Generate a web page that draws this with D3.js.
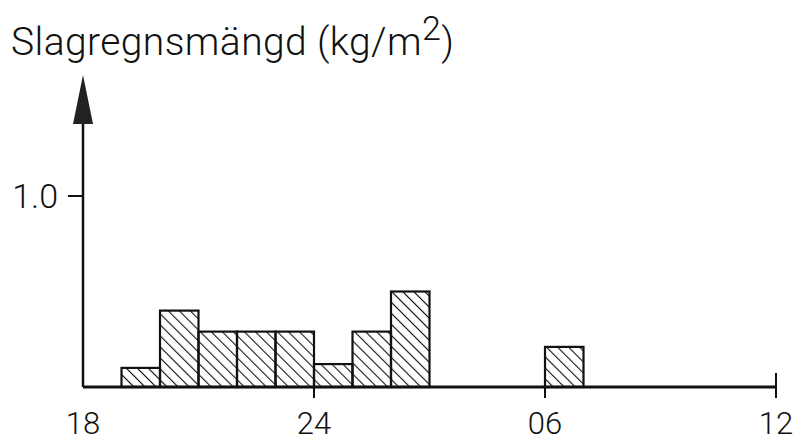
<!DOCTYPE html>
<html>
<head>
<meta charset="utf-8">
<script src="https://cdn.jsdelivr.net/npm/d3@7"></script>
<style>
  body { margin: 0; background: #fff; }
  text { font-family: Roboto, "DejaVu Sans", sans-serif; font-weight: 300; fill: #111; }
</style>
</head>
<body>
<div id="chart"></div>
<script>
// timmar (18 = kl 18, 24 = midnatt, 30 = kl 06, 36 = kl 12)
var hourStart = [19, 20, 21, 22, 23, 24, 25, 26, 30];
var amount    = [0.10, 0.40, 0.29, 0.29, 0.29, 0.12, 0.29, 0.50, 0.21];
var xTicks = [18, 24, 30, 36];
var xTickLabels = ["18", "24", "06", "12"];
var yTicks = [1.0];
var yTickLabels = ["1.0"];

var width = 793, height = 443;
var margin = {top: 75, right: 17, bottom: 56, left: 83};

var svg = d3.select("#chart").append("svg")
    .attr("width", width)
    .attr("height", height);

// skalor
var eX = d3.scaleLinear().domain([18, 36]).range([margin.left, width - margin.right]);
var eY = d3.scaleLinear().domain([0, 1]).range([height - margin.bottom, 196]);

// skraffering
var defs = svg.append("defs");
var pat = defs.append("pattern")
    .attr("id", "hatch")
    .attr("patternUnits", "userSpaceOnUse")
    .attr("width", 7.8)
    .attr("height", 7.8)
    .attr("patternTransform", "rotate(-45)");
pat.append("line")
    .attr("x1", 0).attr("y1", -1)
    .attr("x2", 0).attr("y2", 9)
    .attr("stroke", "#111")
    .attr("stroke-width", 2.2);

// staplar
svg.selectAll(".bar")
    .data(hourStart)
    .enter().append("rect")
    .attr("class", "bar")
    .attr("x", function(d) { return eX(d); })
    .attr("y", function(d, i) { return eY(amount[i]); })
    .attr("width", function(d) { return eX(d + 1) - eX(d); })
    .attr("height", function(d, i) { return eY(0) - eY(amount[i]); })
    .attr("fill", "url(#hatch)")
    .attr("stroke", "#111")
    .attr("stroke-width", 2.2);

// x-axel
var y0 = eY(0);
svg.append("line")
    .attr("x1", eX(18)).attr("x2", eX(36))
    .attr("y1", y0).attr("y2", y0)
    .attr("stroke", "#111").attr("stroke-width", 3);

svg.selectAll(".xtick")
    .data(xTicks.slice(1))
    .enter().append("line")
    .attr("x1", function(d) { return eX(d); })
    .attr("x2", function(d) { return eX(d); })
    .attr("y1", function(d) { return d == 36 ? y0 - 14 : y0; })
    .attr("y2", y0 + 11)
    .attr("stroke", "#111").attr("stroke-width", 2);

svg.selectAll(".xlabel")
    .data(xTicks)
    .enter().append("text")
    .attr("x", function(d) { return eX(d); })
    .attr("y", 434)
    .attr("text-anchor", "middle")
    .style("font-size", "31px")
    .text(function(d, i) { return xTickLabels[i]; });

// y-axel med pil
svg.append("line")
    .attr("x1", eX(18)).attr("x2", eX(18))
    .attr("y1", y0).attr("y2", 118)
    .attr("stroke", "#111").attr("stroke-width", 2.5);

svg.append("path")
    .attr("d", "M" + eX(18) + ",75 L" + (eX(18) - 10) + ",124 L" + (eX(18) + 10) + ",124 Z")
    .attr("fill", "#222");

svg.selectAll(".ytick")
    .data(yTicks)
    .enter().append("line")
    .attr("x1", eX(18) - 15).attr("x2", eX(18))
    .attr("y1", function(d) { return eY(d); })
    .attr("y2", function(d) { return eY(d); })
    .attr("stroke", "#111").attr("stroke-width", 2);

svg.selectAll(".ylabel")
    .data(yTicks)
    .enter().append("text")
    .attr("x", 58)
    .attr("y", function(d) { return eY(d) + 12; })
    .attr("text-anchor", "end")
    .style("font-size", "34px")
    .text(function(d, i) { return yTickLabels[i]; });

// titel
var title = svg.append("text")
    .attr("x", 11)
    .attr("y", 55)
    .style("font-size", "39px")
    .style("letter-spacing", "0.4px");
title.append("tspan").text("Slagregnsmängd (kg/m");
title.append("tspan").attr("dy", -15).style("font-size", "34px").text("2");
title.append("tspan").attr("dy", 15).text(")");
</script>
</body>
</html>
